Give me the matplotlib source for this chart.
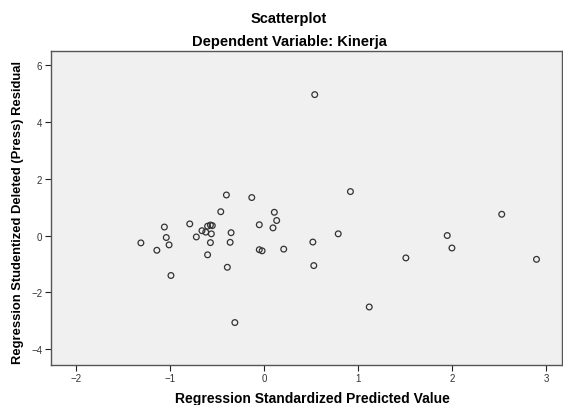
import matplotlib.pyplot as plt

plt.rcParams['font.family'] = ['Liberation Sans', 'DejaVu Sans']

# Data
predicted = [
    -0.40, -0.13, -0.46, 0.11, 0.135, -1.06, -0.79, -0.05, 0.096,
    -0.60, -0.57, -0.55,
    -0.66, -0.62, -0.56, -0.35, -1.04, -0.72, -1.31, -1.01, -0.57, -0.36,
    -1.14, -0.05, -0.02, 0.21, -0.60, -0.39, -0.99, -0.31,
    0.92, 0.79, 0.52, 0.53, 1.12, 1.51, 1.95, 2.00, 2.53, 2.90, 0.54,
]
residual = [
    1.43, 1.34, 0.84, 0.82, 0.53, 0.30, 0.41, 0.38, 0.27,
    0.33, 0.37, 0.35,
    0.17, 0.12, 0.06, 0.10, -0.07, -0.05, -0.26, -0.33, -0.25, -0.24,
    -0.52, -0.50, -0.54, -0.48, -0.68, -1.12, -1.41, -3.07,
    1.55, 0.06, -0.23, -1.06, -2.52, -0.79, 0.00, -0.44, 0.75, -0.84, 4.97,
]
x_ticks = [-2, -1, 0, 1, 2, 3]
y_ticks = [-4, -2, 0, 2, 4, 6]

fig = plt.figure(figsize=(5.63, 4.06), dpi=100)
ax = fig.add_axes([0.090, 0.0997, 0.908, 0.773])
ax.set_facecolor('#f0f0f0')

ax.scatter(predicted, residual, s=17, facecolors='none', edgecolors='#333333', linewidths=0.9)

ax.set_xlim(-2.27, 3.17)
ax.set_ylim(-4.55, 6.52)
ax.set_xticks(x_ticks)
ax.set_yticks(y_ticks)
ax.tick_params(direction='out', length=4, width=0.8, labelsize=7, colors='#222222',
               labelcolor='#333333', pad=2, top=False, right=False)
for s in ax.spines.values():
    s.set_color('#555555')
    s.set_linewidth(1.0)

# axis labels placed as figure text to match the reference positions
fig.text(312.6 / 563, 1 - 399 / 406, 'Regression Standardized Predicted Value',
         ha='center', va='center', fontsize=10, fontweight='bold')
fig.text(18 / 563, 1 - 212 / 406, 'Regression Studentized Deleted (Press) Residual',
         ha='center', va='center', rotation=90, fontsize=9.4, fontweight='bold')

fig.text(289 / 563, 1 - 22.7 / 406, 'Scatterplot', ha='center', va='baseline',
         fontsize=10.5, fontweight='bold')
fig.text(289 / 563, 1 - 45.7 / 406, 'Dependent Variable: Kinerja', ha='center', va='baseline',
         fontsize=10.5, fontweight='bold')

fig.savefig('out.png', dpi=100, facecolor='white')
